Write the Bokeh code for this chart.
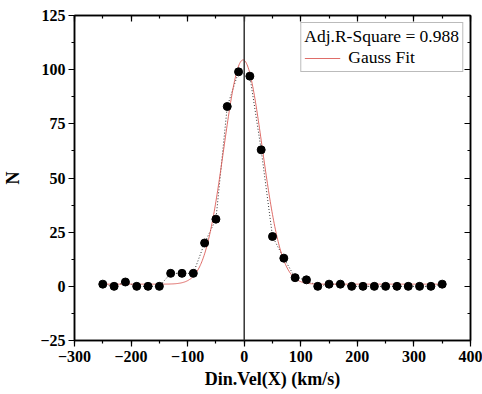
import numpy as np
from bokeh.plotting import figure
from bokeh.models import (LinearAxis, Range1d, SingleIntervalTicker, Span,
                          Legend, LegendItem, ColumnDataSource, CustomLabelingPolicy)
from bokeh.embed import file_html
from bokeh.resources import INLINE

# ---- data ----
vel = [-250, -230, -210, -190, -170, -150, -130, -110, -90, -70, -50, -30, -10,
       10, 30, 50, 70, 90, 110, 130, 150, 170, 190, 210, 230, 250, 270, 290,
       310, 330, 350]
counts = [1, 0, 2, 0, 0, 0, 6, 6, 6, 20, 31, 83, 99,
          97, 63, 23, 13, 4, 3, 0, 1, 1, 0, 0, 0, 0, 0, 0,
          0, 0, 1]

# Gaussian fit parameters (estimated from the drawn fit curve)
fit_y0 = 1.0
fit_xc = -2.0
fit_sigma = 34.0
fit_amp = 103.5
adj_r2 = "0.988"

x_ticks_interval = 100
y_ticks_interval = 25

FONT = "Liberation Serif"

p = figure(width=482, height=394, output_backend="svg", toolbar_location=None,
           x_range=Range1d(-300, 400), y_range=Range1d(-25, 125),
           min_border_left=70, min_border_right=12, min_border_top=15,
           min_border_bottom=54)
p.xaxis.visible = False
p.yaxis.visible = False
p.renderers = []
p.grid.visible = False
p.outline_line_color = "black"
p.outline_line_width = 1.5

xa = LinearAxis(ticker=SingleIntervalTicker(interval=x_ticks_interval, num_minor_ticks=2),
                axis_label="Din.Vel(X) (km/s)")
ya = LinearAxis(ticker=SingleIntervalTicker(interval=y_ticks_interval, num_minor_ticks=2),
                axis_label="N")
for ax in (xa, ya):
    ax.axis_line_color = "black"
    ax.axis_line_width = 1.5
    ax.major_tick_line_color = "black"
    ax.minor_tick_line_color = "black"
    ax.major_tick_line_width = 1.2
    ax.minor_tick_line_width = 1.2
    ax.major_tick_out = 6
    ax.major_tick_in = 0
    ax.minor_tick_out = 3
    ax.minor_tick_in = 0
    ax.major_label_text_font = FONT
    ax.major_label_text_font_style = "bold"
    ax.major_label_text_font_size = "16px"
    ax.major_label_text_color = "black"
    ax.axis_label_text_font = FONT
    ax.axis_label_text_font_style = "bold"
    ax.axis_label_text_font_size = "18px"
    ax.axis_label_text_color = "black"
    ax.major_label_standoff = 3
xa.major_label_standoff = 4
xa.axis_label_standoff = 4
ya.axis_label_standoff = 14
p.add_layout(xa, "below")
p.add_layout(ya, "left")

# mirrored axes with inward ticks, no labels
no_labels = CustomLabelingPolicy(code="""
    for (const i of Array.from(indices)) { indices.unset(i) }
    return indices
""")
for loc, itv in (("above", x_ticks_interval), ("right", y_ticks_interval)):
    ax = LinearAxis(ticker=SingleIntervalTicker(interval=itv, num_minor_ticks=2),
                    major_label_policy=no_labels)
    ax.axis_line_color = "black"
    ax.axis_line_width = 1.5
    ax.major_tick_in = 6
    ax.major_tick_out = 0
    ax.minor_tick_in = 3
    ax.minor_tick_out = 0
    ax.major_tick_line_width = 1.2
    ax.minor_tick_line_width = 1.2
    ax.major_label_standoff = 0
    ax.major_label_text_font_size = "1px"
    p.add_layout(ax, loc)

# vertical line at zero
p.add_layout(Span(location=0, dimension="height", line_color="#333333", line_width=1.5))

src = ColumnDataSource(dict(x=vel, y=counts))
# dotted connecting line
p.line("x", "y", source=src, line_color="#333333", line_width=1, line_dash="1 2")

# gauss fit
xf = np.linspace(-250, 350, 601)
yf = fit_y0 + fit_amp * np.exp(-0.5 * ((xf - fit_xc) / fit_sigma) ** 2)
fit_r = p.line(xf, yf, line_color="#d9534f", line_width=1, line_alpha=0.85)

# data points
p.scatter("x", "y", source=src, size=8, fill_color="black", line_color="black")

legend = Legend(items=[LegendItem(label="Gauss Fit", renderers=[fit_r])],
                location="top_right", title=f"Adj.R-Square = {adj_r2}")
legend.title_text_font = FONT
legend.title_text_font_style = "normal"
legend.title_text_font_size = "17.5px"
legend.title_text_color = "black"
legend.title_standoff = 0
legend.label_text_font = FONT
legend.label_text_font_size = "17.5px"
legend.label_text_color = "black"
legend.border_line_color = "#777777"
legend.border_line_width = 1
legend.margin = 7
legend.padding = 3
legend.glyph_width = 36
legend.label_standoff = 8
legend.spacing = 0
legend.label_height = 18
legend.glyph_height = 18
p.add_layout(legend)

open("out.html", "w").write(file_html(p, INLINE))
